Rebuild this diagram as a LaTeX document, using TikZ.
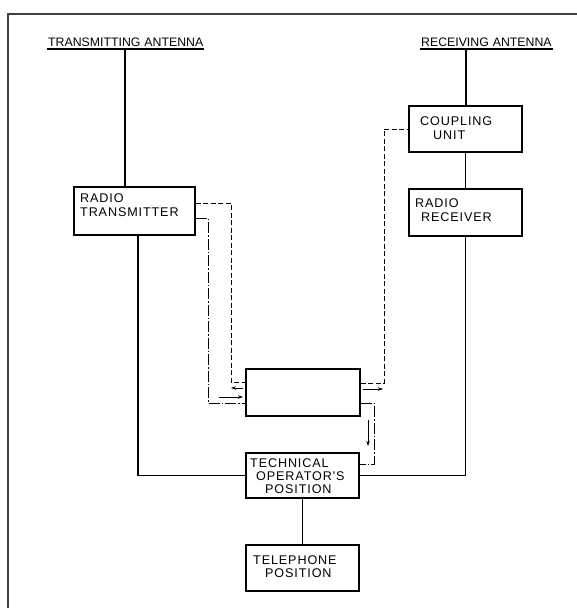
\documentclass[tikz,border=0pt]{standalone}
\usepackage{fontspec}
\setmainfont{Liberation Sans}
\newfontfamily\lettering[LetterSpace=7]{Liberation Sans}
\usetikzlibrary{arrows.meta,calc}
\begin{document}
\begin{tikzpicture}[x=1pt,y=-1pt,
  box/.style={draw, line width=1.2pt, inner sep=0pt, minimum width=113pt, minimum height=46pt},
  lbl/.style={inner sep=0pt, anchor=base west, font=\fontsize{12.3}{14}\selectfont},
  btxt/.style={inner sep=0pt, anchor=base west, font=\lettering\fontsize{12.6}{14}\selectfont},
  sig/.style={line width=1.1pt},
  dsh/.style={line width=0.9pt, dash pattern=on 5pt off 2.5pt},
  dd/.style={line width=0.9pt, dash pattern=on 11pt off 2pt on 1.5pt off 2pt},
  arr/.style={line width=0.8pt, -{Stealth[length=5pt,width=3.5pt]}},
  frame/.style={line width=1.5pt, black!75}]
\path[use as bounding box] (0,0) rectangle (576,608);
\draw[frame] (8,612) -- (8,14) -- (580,14);

% boxes
\node[box, minimum width=121pt, minimum height=48pt] (tx) at (134.5,211) {};
\node[box] (cu) at (465.5,129) {};
\node[box, minimum height=47pt] (rx) at (465.5,212.5) {};
\node[box, minimum width=114pt, minimum height=47pt] (cb) at (303,392.5) {};
\node[box, minimum height=45pt] (tech) at (302.5,475.5) {};
\node[box] (tel) at (302.5,568) {};

% labels
\node[lbl] (tal) at (48,46) {TRANSMITTING\hspace{4pt}ANTENNA};
\node[lbl] (ral) at (421,46) {RECEIVING\hspace{4pt}ANTENNA};
\draw[sig] ($(tal.base west)+(-1,3)$) -- ($(tal.base east)+(1,3)$);
\draw[sig] ($(ral.base west)+(-1,3)$) -- ($(ral.base east)+(1,3)$);

\node[btxt] (t1) at (80,202) {RADIO};
\node[btxt] (t2) at (80,216) {TRANSMITTER};
\node[btxt] (c1) at (420,125) {COUPLING};
\node[btxt] (c2) at (433,139) {UNIT};
\node[btxt] (r1) at (415,207) {RADIO};
\node[btxt] (r2) at (421,221) {RECEIVER};
\node[btxt] (o1) at (250,467) {TECHNICAL};
\node[btxt] (o2) at (256,480) {OPERATOR'S};
\node[btxt] (o3) at (265,493) {POSITION};
\node[btxt] (p1) at (253,564) {TELEPHONE};
\node[btxt] (p2) at (265,577) {POSITION};

% solid connectors
\coordinate (ta) at (125,49);
\coordinate (ra) at (466,49);
\draw[sig] (ta) -- (ta |- tx.north);
\draw[sig] (ra) -- (ra |- cu.north);
\draw[sig] (cu.south) -- (rx.north);
\draw[sig] ([xshift=3.5pt]tx.south) |- (tech.west);
\draw[sig] (rx.south) |- (tech.east);
\draw[sig] (tech.south) -- (tel.north);

% dashed / chain connectors
\draw[dsh] (tx.east |- 0,203) -- (231,203) -- (231,382) -- (cb.west |- 0,382);
\draw[dd] (tx.east |- 0,218) -- (208,218) -- (208,403) -- (cb.west |- 0,403);
\draw[dsh] (cb.east |- 0,383) -- (384,383) -- (384,129) -- (cu.west);
\draw[dd] (cb.east |- 0,403) -- (374,403) -- (374,464) -- (tech.east |- 0,464);

% arrows
\coordinate (a1s) at (243,388); \coordinate (a1e) at (231,388);
\coordinate (a2s) at (219,397); \coordinate (a2e) at (243,397);
\coordinate (a3s) at (363,389); \coordinate (a3e) at (383,389);
\coordinate (a4s) at (368,420); \coordinate (a4e) at (368,446);
\draw[arr] (a1s) -- (a1e);
\draw[arr] (a2s) -- (a2e);
\draw[arr] (a3s) -- (a3e);
\draw[arr] (a4s) -- (a4e);
\end{tikzpicture}
\end{document}
